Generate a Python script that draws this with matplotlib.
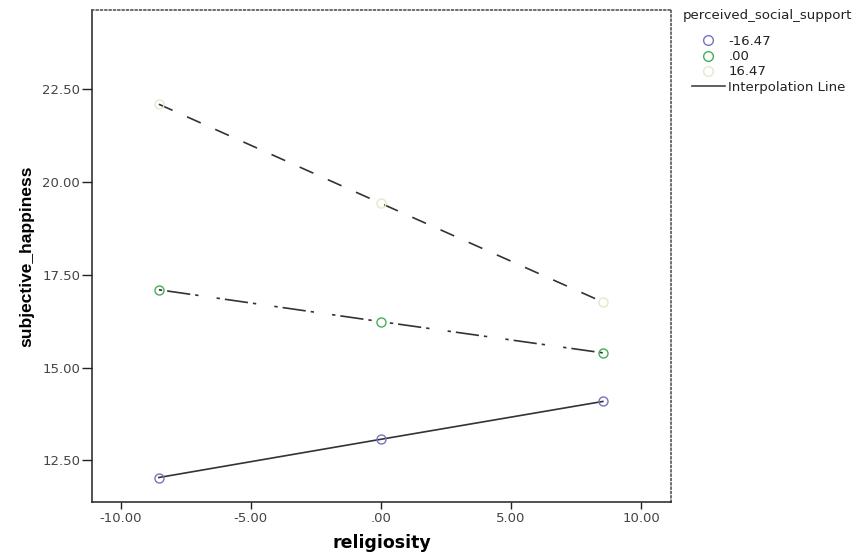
import matplotlib
matplotlib.use('Agg')
import matplotlib.pyplot as plt
from matplotlib.lines import Line2D
from matplotlib.ticker import FuncFormatter

# values
religiosity = [-8.53, 0.0, 8.53]
support_labels = ['-16.47', '.00', '16.47']
happiness_low = [12.04, 13.07, 14.09]
happiness_mid = [17.10, 16.24, 15.40]
happiness_high = [22.10, 19.43, 16.77]
x_ticks = [-10, -5, 0, 5, 10]
y_ticks = [12.5, 15.0, 17.5, 20.0, 22.5]

marker_colors = ['#7474c0', '#45ad55', '#e8e8c8']
line_styles = ['-', (0, (2, 3, 14, 3, 2, 11)), (0, (9, 9.5))]


def spss_fmt(v, pos=None):
    s = '%.2f' % v
    if s in ('0.00', '-0.00'):
        return '.00'
    return s


def main():
    plt.rcParams['font.family'] = ['DejaVu Sans']
    fig = plt.figure(figsize=(8.65, 5.55), dpi=100)
    ax = fig.add_axes([92 / 865, 1 - 502 / 555, (671 - 92) / 865, (502 - 10) / 555])

    series = [happiness_low, happiness_mid, happiness_high]
    for vals, ls in zip(series, line_styles):
        ax.plot(religiosity, vals, color='#333333', linewidth=1.2, linestyle=ls, zorder=2)
    for vals, col in zip(series, marker_colors):
        ax.plot(religiosity, vals, linestyle='none', marker='o', markersize=6.5,
                markerfacecolor='none', markeredgecolor=col, markeredgewidth=1.0, zorder=3)

    ax.set_xlim(-11.1, 11.15)
    ax.set_ylim(11.38, 24.64)
    ax.set_xticks(x_ticks)
    ax.set_yticks(y_ticks)
    ax.xaxis.set_major_formatter(FuncFormatter(spss_fmt))
    ax.yaxis.set_major_formatter(FuncFormatter(spss_fmt))
    ax.tick_params(axis='both', direction='out', width=1, colors='#222222',
                   labelsize=9.5, labelcolor='#444444')
    ax.tick_params(axis='x', length=5, pad=2)
    ax.tick_params(axis='y', length=7, pad=1.5)

    for side in ['left', 'bottom']:
        ax.spines[side].set_color('#222222')
        ax.spines[side].set_linewidth(1.1)
    for side in ['top', 'right']:
        ax.spines[side].set_color('#555555')
        ax.spines[side].set_linewidth(1.2)
        ax.spines[side].set_linestyle((0, (1, 1.6)))

    ax.set_xlabel('religiosity', fontsize=12.5, fontweight='bold')
    ax.xaxis.set_label_coords(0.5, (502 - 534) / 492)
    ax.set_ylabel('subjective_happiness', fontsize=12.5, fontweight='bold',
                  family=['Liberation Sans', 'DejaVu Sans'])
    ax.yaxis.set_label_coords((34 - 92) / 579, 0.5)

    # legend: title as separate text so the entries can be indented
    fig.text(683 / 865, 1 - 16 / 555, 'perceived_social_support', fontsize=9.6,
             color='#222222', ha='left', va='center')
    handles = []
    for col, lab in zip(marker_colors, support_labels):
        handles.append(Line2D([], [], linestyle='none', marker='o', markersize=7,
                              markerfacecolor='none', markeredgecolor=col, label=lab))
    handles.append(Line2D([], [], color='#444444', linewidth=1.2, label='Interpolation Line'))
    fig.legend(handles=handles, loc='upper left', bbox_to_anchor=(692 / 865, 1 - 35 / 555),
               frameon=False, fontsize=9.5, handlelength=2.5, handletextpad=0.25,
               labelspacing=0.17, borderpad=0, borderaxespad=0, labelcolor='#222222')

    fig.savefig('out.png', dpi=100)


if __name__ == "__main__":
    main()
